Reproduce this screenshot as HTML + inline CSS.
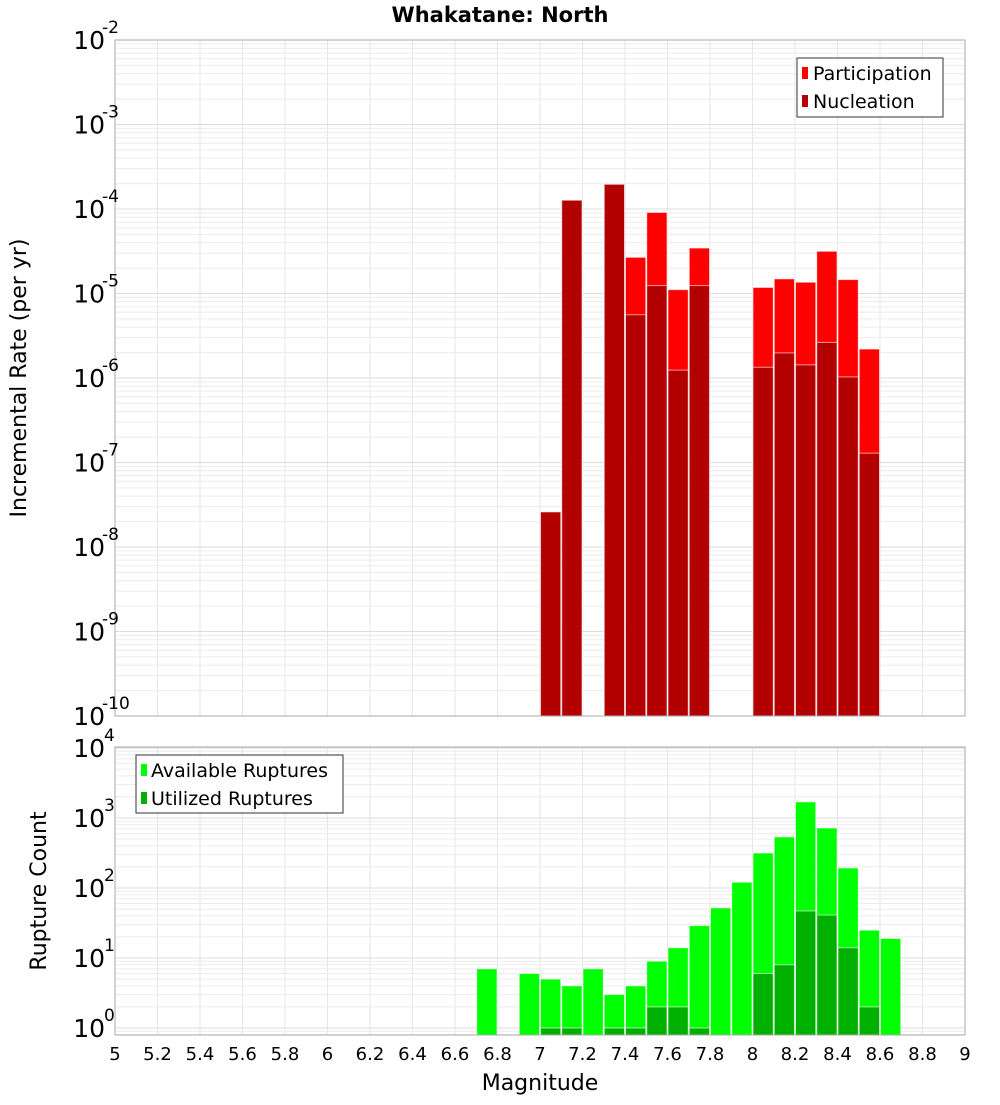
<!DOCTYPE html>
<html><head><meta charset="utf-8">
<style>
html,body{margin:0;padding:0;background:#fff;}
svg text{font-family:"DejaVu Sans","Liberation Sans",sans-serif;}
</style></head>
<body>
<svg id="chart" width="1000" height="1100" xmlns="http://www.w3.org/2000/svg">
<text x="500" y="22" text-anchor="middle" font-size="21" font-weight="bold">Whakatane: North</text>
<g id="gtop"></g>
<g id="gbot"></g>
<text transform="translate(26,378) rotate(-90)" text-anchor="middle" font-size="22">Incremental Rate (per yr)</text>
<text transform="translate(46,891) rotate(-90)" text-anchor="middle" font-size="22">Rupture Count</text>
<text x="540" y="1090" text-anchor="middle" font-size="22">Magnitude</text>
<g>
<rect x="797" y="58" width="146" height="59" fill="#fff" stroke="#333" stroke-width="1"/>
<rect x="802" y="67" width="6" height="12" fill="#ff0000"/>
<text x="813" y="80" font-size="19">Participation</text>
<rect x="802" y="95" width="6" height="12" fill="#b30000"/>
<text x="813" y="108" font-size="19">Nucleation</text>
</g>
<g>
<rect x="136" y="755" width="207" height="58" fill="#fff" stroke="#333" stroke-width="1"/>
<rect x="141" y="764" width="6" height="12" fill="#00ff00"/>
<text x="151" y="777" font-size="19">Available Ruptures</text>
<rect x="141" y="792" width="6" height="12" fill="#00b000"/>
<text x="151" y="805" font-size="19">Utilized Ruptures</text>
</g>
</svg>
<script>
const mags = [7.05,7.15,7.35,7.45,7.55,7.65,7.75,8.05,8.15,8.25,8.35,8.45,8.55];
const participation = [2.6e-8,1.27e-4,1.96e-4,2.68e-5,9.1e-5,1.11e-5,3.45e-5,1.18e-5,1.49e-5,1.36e-5,3.16e-5,1.46e-5,2.2e-6];
const nucleation = [2.6e-8,1.27e-4,1.96e-4,5.6e-6,1.24e-5,1.24e-6,1.24e-5,1.34e-6,1.98e-6,1.43e-6,2.64e-6,1.03e-6,1.29e-7];
const cmags = [6.75,6.95,7.05,7.15,7.25,7.35,7.45,7.55,7.65,7.75,7.85,7.95,8.05,8.15,8.25,8.35,8.45,8.55,8.65];
const available = [7,6,5,4,7,3,4,9,14,29,52,121,316,537,1700,720,193,25,19];
const utilized = [0,0,1,1,0,1,1,2,2,1,0,0,6,8,47,41,14,2,0];
const xTicks = ["5","5.2","5.4","5.6","5.8","6","6.2","6.4","6.6","6.8","7","7.2","7.4","7.6","7.8","8","8.2","8.4","8.6","8.8","9"];

const NS="http://www.w3.org/2000/svg";
const X0=115,X1=965;
const xs = m => X0 + (m-5)*(X1-X0)/4;
const T0=40,T1=716;
const yTop = v => T0 + (-2 - Math.log10(v))*(T1-T0)/8;
const B0=747,B1=1035;
const yBot = v => 1028 - Math.log10(v)*70;
function mk(parent,tag,attrs){const e=document.createElementNS(NS,tag);for(const k in attrs)e.setAttribute(k,attrs[k]);parent.appendChild(e);return e;}
const gTop=document.getElementById('gtop'), gBot=document.getElementById('gbot'), svgEl=document.getElementById('chart');

function frame(g,y0,y1,ymaj,ymin,name){
  const gr=mk(g,'g',{});
  
  
  for(let i=0;i<=20;i++){const xx=xs(5+i*0.2);mk(gr,'line',{x1:xx,x2:xx,y1:y0,y2:y1,stroke:'#e6e6e6','stroke-width':1});}
  ymin.forEach(yy=>{if(yy>y0&&yy<y1)mk(gr,'line',{x1:X0,x2:X1,y1:yy,y2:yy,stroke:'#ececec','stroke-width':1});});
  ymaj.forEach(yy=>{if(yy>=y0&&yy<=y1)mk(gr,'line',{x1:X0,x2:X1,y1:yy,y2:yy,stroke:'#dcdcdc','stroke-width':1});});
}
let maj=[],mnr=[];
for(let e=-10;e<=-2;e++){maj.push(yTop(Math.pow(10,e)));for(let k=2;k<10;k++)mnr.push(yTop(k*Math.pow(10,e)));}
frame(gTop,T0,T1,maj,mnr,'top');
maj=[];mnr=[];
for(let e=-1;e<=4;e++){maj.push(yBot(Math.pow(10,e)));for(let k=2;k<10;k++)mnr.push(yBot(k*Math.pow(10,e)));}
frame(gBot,B0,B1,maj,mnr,'bottom');

const bw=(X1-X0)/40;
function bar(g,m,v,y0,yf,base,fill,name){
  if(v<=0)return;
  const yy=Math.max(yf(v),y0);
  const r=mk(g,'rect',{x:xs(m)-bw/2+0.5,y:yy,width:bw-1,height:base-yy,fill:fill,stroke:'#ffffff','stroke-opacity':0.6,'stroke-width':1});
  
  
}
mags.forEach((m,i)=>{bar(gTop,m,participation[i],T0,yTop,T1,'#ff0000','participation-bar');});
mags.forEach((m,i)=>{bar(gTop,m,nucleation[i],T0,yTop,T1,'#b30000','nucleation-bar');});
cmags.forEach((m,i)=>{bar(gBot,m,available[i],B0,yBot,B1,'#00ff00','available-bar');});
cmags.forEach((m,i)=>{bar(gBot,m,utilized[i],B0,yBot,B1,'#00b000','utilized-bar');});

mk(gTop,'rect',{x:X0,y:T0,width:X1-X0,height:T1-T0,fill:'none',stroke:'#aaaaaa','stroke-width':1});
mk(gBot,'rect',{x:X0,y:B0,width:X1-X0,height:B1-B0,fill:'none',stroke:'#aaaaaa','stroke-width':1});

function ylab(yy,exp){
  const t=mk(svgEl,'text',{x:105,y:yy+9,'text-anchor':'end','font-size':25});
  
  
  t.textContent='10';
  const s=mk(svgEl,'text',{x:exp.length>1?102:104,y:yy-7,'font-size':17});
  
  
  s.textContent=exp;
}
for(let e=-10;e<=-2;e++)ylab(yTop(Math.pow(10,e)),String(e));
for(let e=0;e<=4;e++)ylab(yBot(Math.pow(10,e)),String(e));
xTicks.forEach((lbl,i)=>{
  const t=mk(svgEl,'text',{x:xs(5+i*0.2),y:1060,'text-anchor':'middle','font-size':18});
  
  
  t.textContent=lbl;
});
</script>
</body></html>
